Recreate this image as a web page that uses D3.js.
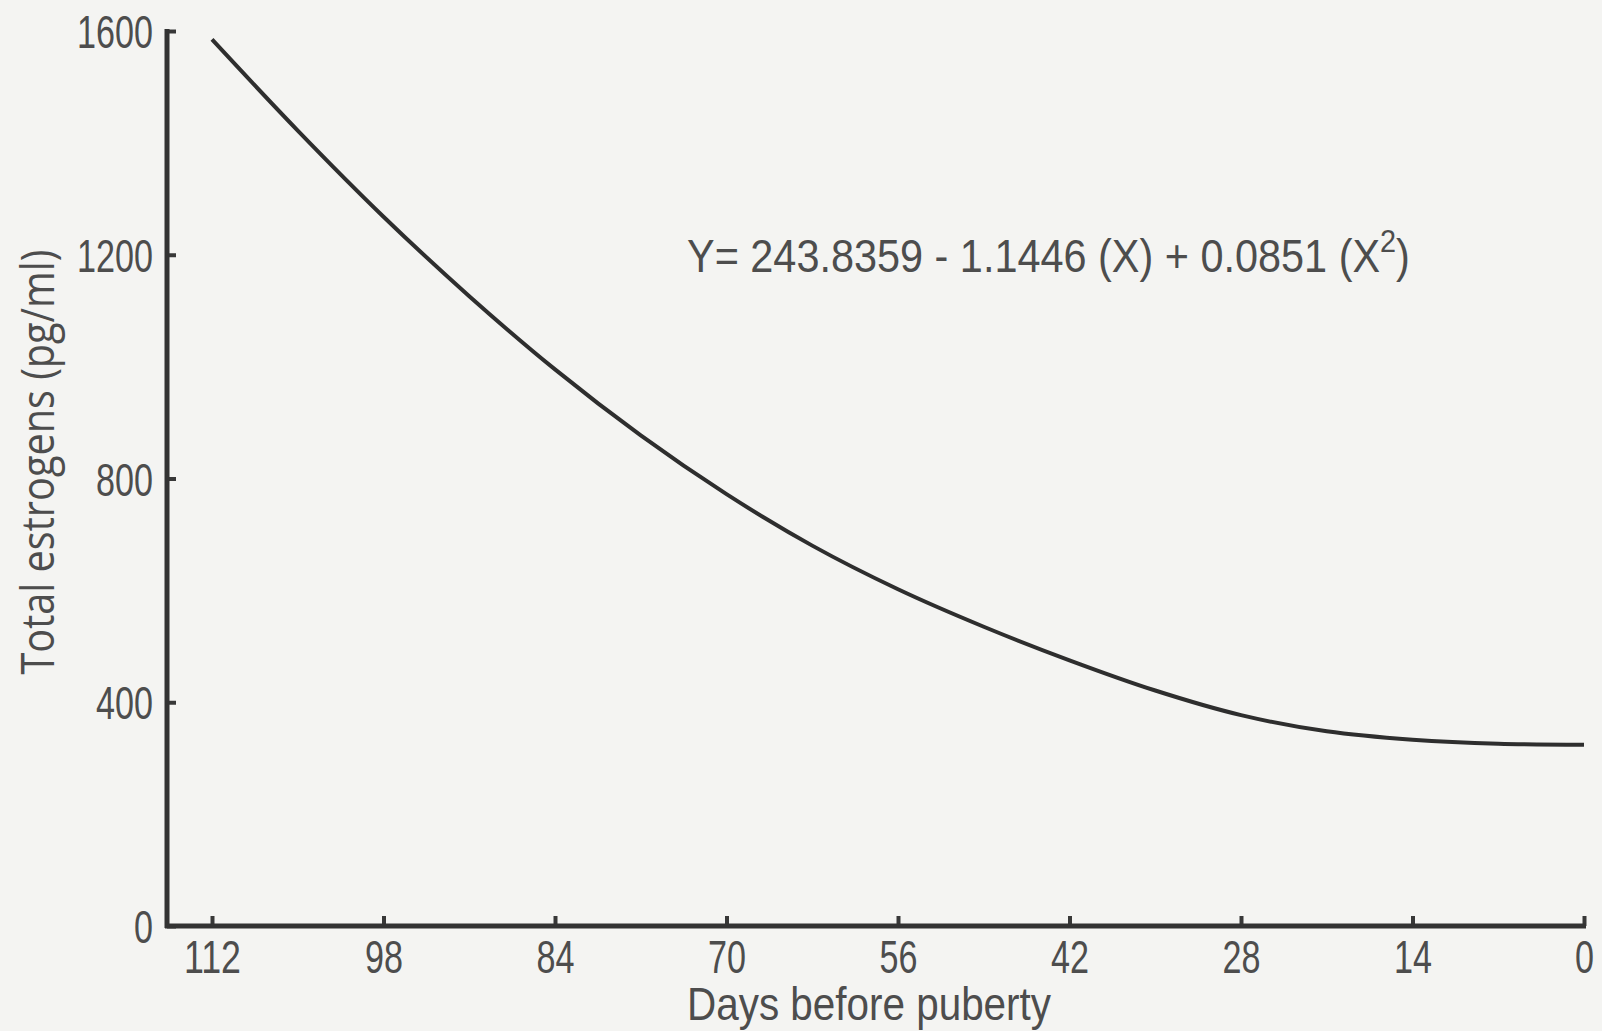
<!DOCTYPE html>
<html>
<head>
<meta charset="utf-8">
<script src="https://cdnjs.cloudflare.com/ajax/libs/d3/7.8.5/d3.min.js"></script>
<style>
  html, body { margin: 0; padding: 0; background: #f4f4f2; }
  svg { display: block; }
  text { font-family: "Liberation Sans", sans-serif; fill: #4d4d4d; }
</style>
</head>
<body>
<div class="canvas"></div>
<script>
const svgWidth = 1602;
const svgHeight = 1031;

// Data
const days = [112, 105, 98, 91, 84, 77, 70, 63, 56, 49, 42, 35, 28, 21, 14, 7, 0];
const estrogens = [1585, 1422, 1268, 1126, 995, 877, 772, 680, 602, 535, 475, 421, 377, 348, 333, 326, 324];
const xTicks = [112, 98, 84, 70, 56, 42, 28, 14, 0];
const yTicks = [0, 400, 800, 1200, 1600];
const equation = 'Y= 243.8359 - 1.1446 (X) + 0.0851 (X';

const axisX = 167;      // where the y axis sits
const digitWidth = 19;  // condensed look of the typed labels

const svg = d3.select('.canvas')
    .append('svg')
        .attr('width', svgWidth)
        .attr('height', svgHeight);

// Scale setup:
const x = d3.scaleLinear().domain([112, 0]).range([212, 1584]);
const y = d3.scaleLinear().domain([0, 1600]).range([926, 31]);

// Axis setup:
const xAxis = d3.axisBottom(x)
    .tickValues(xTicks)
    .tickSizeInner(-10)
    .tickSizeOuter(0)
    .tickPadding(14)
    .tickFormat(d3.format('d'));
const yAxis = d3.axisLeft(y)
    .tickValues(yTicks)
    .tickSizeInner(-9)
    .tickSizeOuter(0)
    .tickPadding(14)
    .tickFormat(d3.format('d'));

const xAxisGroup = svg.append('g')
    .attr('class', 'x-axis')
    .attr('transform', `translate(0, ${y(0)})`)
    .call(xAxis);
const yAxisGroup = svg.append('g')
    .attr('class', 'y-axis')
    .attr('transform', `translate(${axisX}, 0)`)
    .call(yAxis);

[xAxisGroup, yAxisGroup].forEach(g => {
    g.select('.domain').remove();
    g.selectAll('.tick line').attr('stroke', '#383838').attr('stroke-width', 4);
    g.selectAll('.tick text')
        .attr('font-size', 46)
        .attr('fill', '#4d4d4d')
        .attr('textLength', d => String(d).length * digitWidth)
        .attr('lengthAdjust', 'spacingAndGlyphs');
});
xAxisGroup.selectAll('.tick text').attr('dy', '0.71em');
yAxisGroup.selectAll('.tick text').attr('dy', '0.36em');

// Axis lines
svg.append('line')
    .attr('x1', axisX - 2).attr('x2', x(0) + 2)
    .attr('y1', y(0)).attr('y2', y(0))
    .attr('stroke', '#333').attr('stroke-width', 5);
svg.append('line')
    .attr('x1', axisX).attr('x2', axisX)
    .attr('y1', y(1600) - 2).attr('y2', y(0) + 2)
    .attr('stroke', '#333').attr('stroke-width', 5);

// Curve
const line = d3.line()
    .x((d, i) => x(days[i]))
    .y(d => y(d))
    .curve(d3.curveMonotoneX);
svg.append('path')
    .datum(estrogens)
    .attr('d', line)
    .attr('fill', 'none')
    .attr('stroke', '#2e2e2e')
    .attr('stroke-width', 4);

// Equation: one text, squeezed to the width it has in the figure
const eq = svg.append('text')
    .attr('font-size', 46);
eq.append('tspan').text(equation);
eq.append('tspan').attr('dy', -20).attr('font-size', 32).text('2');
eq.append('tspan').attr('dy', 20).text(')');
const eqWidth = eq.node().getComputedTextLength();
eq.attr('transform', `translate(687, 272) scale(${723 / eqWidth}, 1)`);

// Axis titles
svg.append('text')
    .attr('x', 869)
    .attr('y', 1020)
    .attr('text-anchor', 'middle')
    .attr('font-size', 46)
    .attr('textLength', 364)
    .attr('lengthAdjust', 'spacingAndGlyphs')
    .text('Days before puberty');

svg.append('text')
    .attr('transform', 'translate(54, 462) rotate(-90)')
    .attr('text-anchor', 'middle')
    .attr('font-size', 46)
    .attr('textLength', 425)
    .attr('lengthAdjust', 'spacingAndGlyphs')
    .style('font-family', '"Open Sans", sans-serif')
    .attr('fill', '#555')
    .text('Total estrogens (pg/ml)');
</script>
</body>
</html>
